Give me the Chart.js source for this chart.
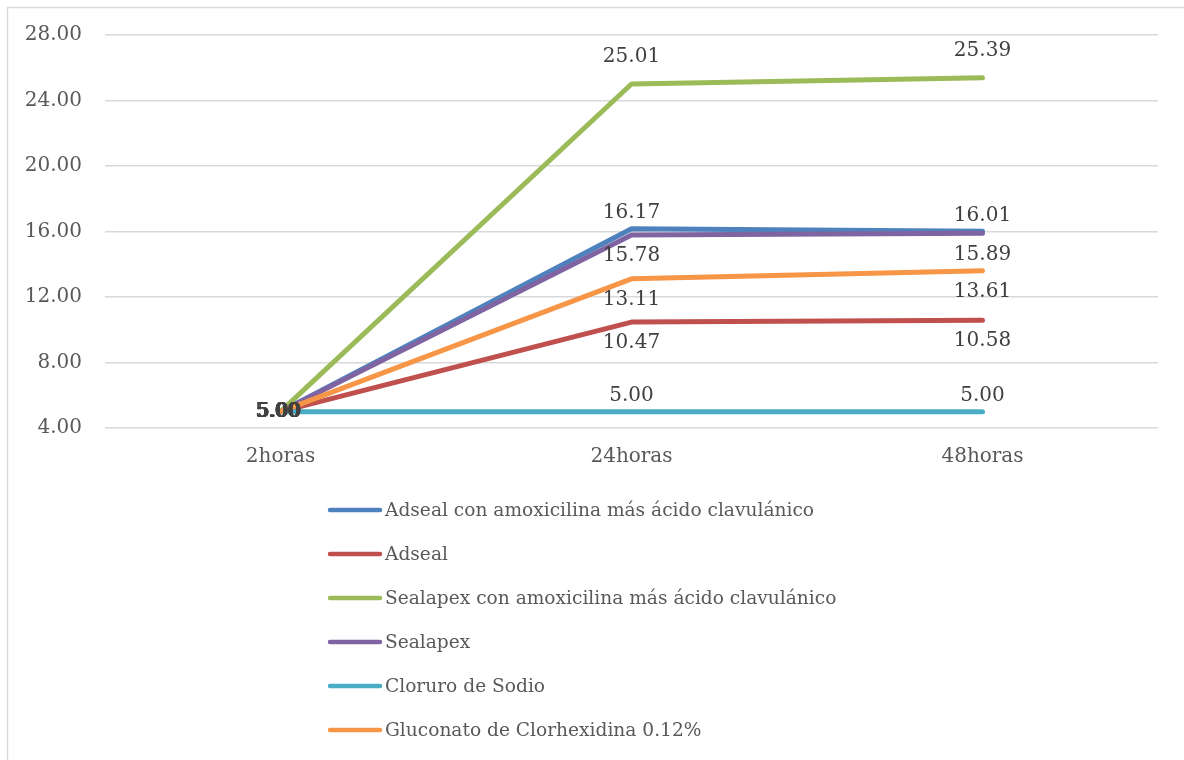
<!DOCTYPE html>
<html>
<head>
<meta charset="utf-8">
<script src="https://cdn.jsdelivr.net/npm/chart.js@4/dist/chart.umd.min.js"></script>
<style>
  html, body { margin: 0; padding: 0; background: #ffffff; }
  #wrap { width: 1184px; height: 760px; position: relative; }
</style>
</head>
<body>
<div id="wrap"><canvas id="c" width="1184" height="760"></canvas></div>
<script>
const categories = ['2horas', '24horas', '48horas'];
const seriesNames = [
  'Adseal con amoxicilina más ácido clavulánico',
  'Adseal',
  'Sealapex con amoxicilina más ácido clavulánico',
  'Sealapex',
  'Cloruro de Sodio',
  'Gluconato de Clorhexidina 0.12%'
];
const adsealAmox   = [5.00, 16.17, 16.01];
const adseal       = [5.00, 10.47, 10.58];
const sealapexAmox = [5.00, 25.01, 25.39];
const sealapex     = [5.00, 15.78, 15.89];
const cloruro      = [5.00, 5.00, 5.00];
const gluconato    = [5.00, 13.11, 13.61];
const yMin = 4, yMax = 28, yStep = 4;

const FONT = 'DejaVu Serif';
const FS = 20;
const FS_LEGEND = 18.6;
const colors = ['#4F81BD', '#C0504D', '#9BBB59', '#8064A2', '#4BACC6', '#F79646'];
const seriesValues = [adsealAmox, adseal, sealapexAmox, sealapex, cloruro, gluconato];
const labelPlacement = [
  ['center', 'above', 'above'],
  ['center', 'below', 'below'],
  ['center', 'above', 'above'],
  ['center', 'below', 'below'],
  ['center', 'above', 'above'],
  ['center', 'below', 'below']
];
const aboveOffset = [16, 16, 27, 16, 16, 16];

const datasets = seriesNames.map((name, i) => ({
  label: name,
  data: seriesValues[i],
  borderColor: colors[i],
  backgroundColor: colors[i],
  borderWidth: 5,
  borderCapStyle: 'round',
  borderJoinStyle: 'round',
  pointRadius: 0,
  pointHoverRadius: 0,
  tension: 0,
  fill: false,
  order: seriesNames.length - i
}));

const frame = {
  id: 'frame',
  beforeDraw(chart) {
    const ctx = chart.ctx;
    ctx.save();
    ctx.fillStyle = '#ffffff';
    ctx.fillRect(0, 0, chart.width, chart.height);
    ctx.strokeStyle = '#d9d9d9';
    ctx.lineWidth = 1.5;
    ctx.strokeRect(7.5, 7.5, chart.width + 20, chart.height + 20);
    ctx.restore();
  }
};

const dataLabels = {
  id: 'dataLabels',
  afterDatasetsDraw(chart) {
    const ctx = chart.ctx;
    ctx.save();
    ctx.font = FS + 'px "' + FONT + '"';
    ctx.fillStyle = '#404040';
    ctx.textAlign = 'center';
    ctx.textBaseline = 'middle';
    chart.data.datasets.forEach((ds, di) => {
      const meta = chart.getDatasetMeta(di);
      meta.data.forEach((pt, i) => {
        const txt = Number(ds.data[i]).toFixed(2);
        const place = labelPlacement[di][i];
        let x = pt.x, y = pt.y;
        if (place === 'above') y -= aboveOffset[di];
        else if (place === 'below') y += 21;
        else { x -= 3 - (di % 2) * 2; }
        ctx.fillText(txt, x, y);
      });
    });
    ctx.restore();
  }
};

const customLegend = {
  id: 'customLegend',
  afterDraw(chart) {
    const ctx = chart.ctx;
    ctx.save();
    ctx.font = FS_LEGEND + 'px "' + FONT + '"';
    ctx.textBaseline = 'middle';
    ctx.textAlign = 'left';
    chart.data.datasets.forEach((ds, i) => {
      const y = 510 + i * 44;
      ctx.strokeStyle = ds.borderColor;
      ctx.lineWidth = 4.5;
      ctx.lineCap = 'round';
      ctx.beginPath();
      ctx.moveTo(330, y);
      ctx.lineTo(380, y);
      ctx.stroke();
      ctx.fillStyle = '#595959';
      ctx.fillText(ds.label, 385, y + 1);
    });
    ctx.restore();
  }
};

new Chart(document.getElementById('c'), {
  type: 'line',
  data: { labels: categories, datasets: datasets },
  options: {
    responsive: false,
    animation: false,
    devicePixelRatio: 1,
    layout: { padding: { left: 0, right: 26, top: 35, bottom: 282 } },
    plugins: { legend: { display: false }, tooltip: { enabled: false } },
    scales: {
      x: {
        offset: true,
        grid: { display: false, drawTicks: false },
        border: { display: false },
        ticks: { color: '#595959', font: { family: FONT, size: FS }, padding: 17 },
        afterFit(s) { s.height = 50; }
      },
      y: {
        min: yMin, max: yMax,
        grid: { color: '#d9d9d9', lineWidth: 1.5, drawTicks: false },
        border: { display: false },
        ticks: {
          stepSize: yStep,
          color: '#595959',
          font: { family: FONT, size: FS },
          padding: 23,
          callback: v => Number(v).toFixed(2)
        },
        afterFit(s) { s.width = 105; }
      }
    }
  },
  plugins: [frame, dataLabels, customLegend]
});
</script>
</body>
</html>
